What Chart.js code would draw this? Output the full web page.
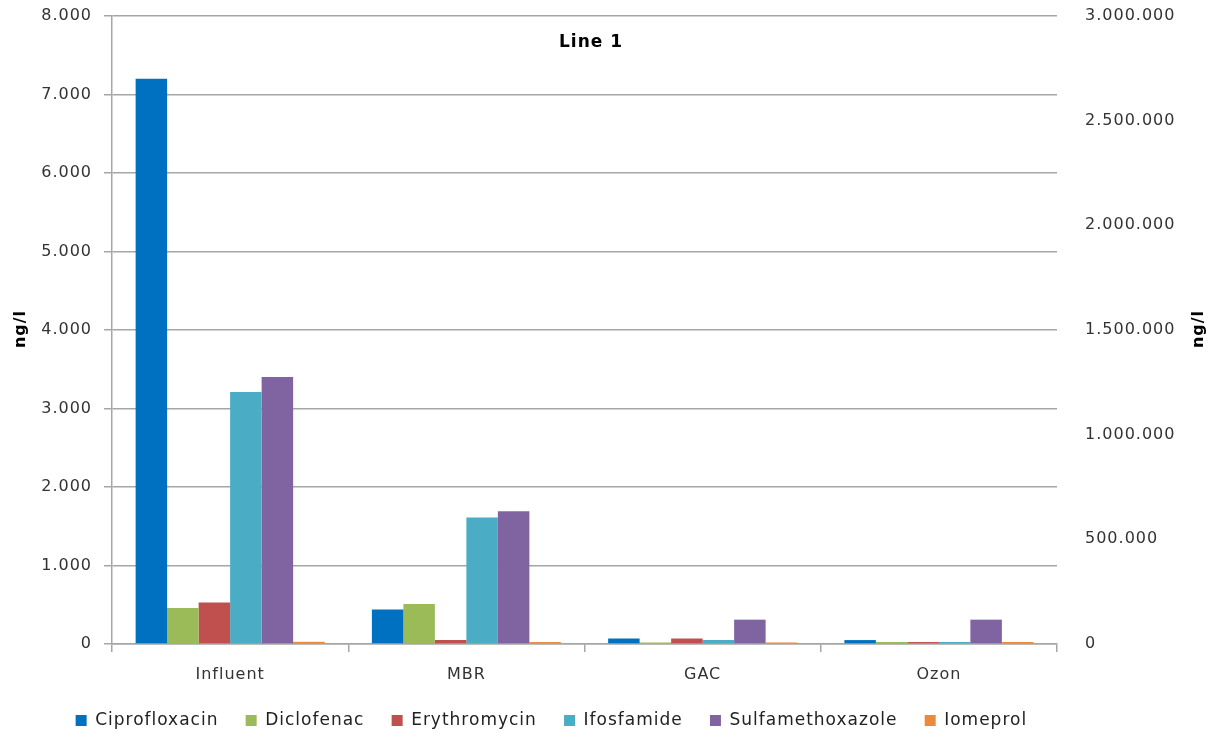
<!DOCTYPE html>
<html>
<head>
<meta charset="utf-8">
<script src="https://cdn.jsdelivr.net/npm/chart.js@4.4.1/dist/chart.umd.min.js"></script>
<style>
  html, body { margin: 0; padding: 0; background: #ffffff; }
  #wrap { width: 1222px; height: 736px; position: relative; }
</style>
</head>
<body>
<div id="wrap"><canvas id="c" width="1222" height="736"></canvas></div>
<script>
const categories = ["Influent", "MBR", "GAC", "Ozon"];
const ciprofloxacin = [7200, 440, 70, 50];
const diclofenac = [460, 510, 20, 25];
const erythromycin = [530, 50, 70, 25];
const ifosfamide = [3210, 1610, 50, 25];
const sulfamethoxazole = [3400, 1690, 310, 310];
const iomeprol = [28, 25, 20, 25];
const seriesNames = ["Ciprofloxacin", "Diclofenac", "Erythromycin", "Ifosfamide", "Sulfamethoxazole", "Iomeprol"];
const seriesColors = ["#0070C0", "#9BBB59", "#C0504D", "#4BACC6", "#8064A2", "#EC8A3C"];
const leftTicks = { min: 0, max: 8000, step: 1000 };
const rightTicks = { min: 0, max: 3000000, step: 500000 };
const chartTitle = "Line 1";
const axisTitle = "ng/l";

const seriesValues = [ciprofloxacin, diclofenac, erythromycin, ifosfamide, sulfamethoxazole, iomeprol];
const fmt = v => Number(v).toLocaleString('de-DE');
const FONT = '"DejaVu Sans"';
const SPACING = '1px';

const spacingPlugin = {
  id: 'spacing',
  beforeLayout(chart) { chart.ctx.letterSpacing = SPACING; },
  afterLayout(chart) {
    const lg = chart.legend;
    if (lg) { lg.right -= 100; lg.top += 3; lg.bottom += 3; }
  },
  beforeDraw(chart) { chart.ctx.letterSpacing = SPACING; }
};

const overlayText = {
  id: 'overlayText',
  afterDraw(chart) {
    const ctx = chart.ctx;
    const area = chart.chartArea;
    ctx.save();
    ctx.letterSpacing = SPACING;
    ctx.fillStyle = '#000';
    ctx.textAlign = 'center';
    ctx.textBaseline = 'middle';
    ctx.font = 'bold 17px ' + FONT;
    ctx.fillText(chartTitle, 591, 43);
    ctx.font = 'bold 16px ' + FONT;
    const midY = (area.top + area.bottom) / 2 - 1;
    [21, 1199].forEach(x => {
      ctx.save();
      ctx.translate(x, midY);
      ctx.rotate(-Math.PI / 2);
      ctx.fillText(axisTitle, 0, 0);
      ctx.restore();
    });
    ctx.restore();
  }
};

function vPad(s) { s.paddingTop = 16; s.paddingBottom = 0; }

new Chart(document.getElementById('c'), {
  type: 'bar',
  data: {
    labels: categories,
    datasets: seriesNames.map((name, i) => ({
      label: name,
      data: seriesValues[i],
      backgroundColor: seriesColors[i],
      borderWidth: 0,
      yAxisID: 'y',
      categoryPercentage: 0.8,
      barPercentage: 1.0
    }))
  },
  options: {
    responsive: false,
    animation: false,
    layout: { padding: { top: 0, left: 0, right: 0, bottom: 0 } },
    plugins: {
      legend: {
        position: 'bottom',
        labels: {
          boxWidth: 11,
          boxHeight: 11,
          padding: 8,
          color: '#222',
          font: { family: FONT, size: 17 },
          generateLabels(chart) {
            const items = Chart.defaults.plugins.legend.labels.generateLabels(chart);
            items.forEach(it => { it.text = it.text + '   '; });
            return items;
          }
        }
      },
      title: { display: false },
      tooltip: { enabled: false }
    },
    scales: {
      x: {
        grid: {
          display: true,
          offset: true,
          drawOnChartArea: false,
          tickLength: 8,
          color: '#A6A6A6',
          lineWidth: 1.5
        },
        border: { display: true, color: '#A6A6A6', width: 1.5 },
        ticks: {
          color: '#333',
          padding: 13,
          font: { family: FONT, size: 16 }
        },
        afterFit(s) { s.height = 57; }
      },
      y: {
        position: 'left',
        min: leftTicks.min,
        max: leftTicks.max,
        grid: { color: '#A6A6A6', lineWidth: 1.5, tickLength: 8 },
        border: { display: true, color: '#A6A6A6', width: 1.5 },
        ticks: {
          stepSize: leftTicks.step,
          color: '#333',
          padding: 12,
          font: { family: FONT, size: 16 },
          callback: v => fmt(v)
        },
        afterFit(s) { s.width = 112; vPad(s); }
      },
      y2: {
        position: 'right',
        min: rightTicks.min,
        max: rightTicks.max,
        grid: { display: false, drawOnChartArea: false, drawTicks: false },
        border: { display: false },
        ticks: {
          stepSize: rightTicks.step,
          color: '#333',
          padding: 28,
          font: { family: FONT, size: 16 },
          callback: v => fmt(v)
        },
        afterFit(s) { s.width = 165; vPad(s); }
      }
    }
  },
  plugins: [spacingPlugin, overlayText]
});
</script>
</body>
</html>
